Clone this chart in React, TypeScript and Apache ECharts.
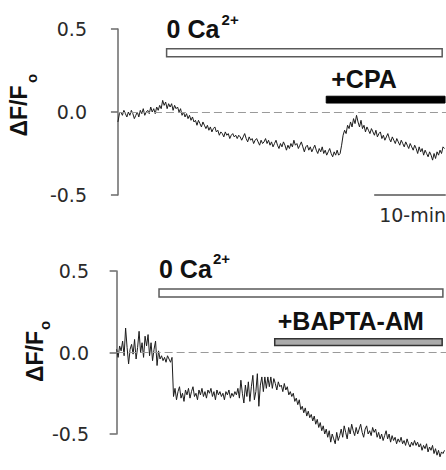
import React, { useEffect, useRef } from "react";
import * as echarts from "echarts";

// One fluorescence sample every 12.5 s, time axis in minutes
const SAMPLE_MIN = 12.5 / 60;

// ΔF/Fo, upper recording (0 Ca2+, then CPA)
const topTrace = [
  -0.06, -0.01, 0.0, -0.02, 0.01, -0.01, -0.03, 0.0, -0.02, 0.01,
  -0.01, -0.04, -0.02, 0.0, -0.03, 0.01, -0.01, 0.02, -0.02, 0.0,
  0.01, -0.01, 0.03, 0.0, 0.02, -0.01, 0.03, 0.01, 0.04, 0.02,
  0.07, 0.04, 0.06, 0.02, 0.05, 0.03, 0.05, 0.01, 0.04, 0.02,
  0.03, 0.0, 0.02, -0.02, 0.0, -0.03, -0.01, -0.04, -0.02, -0.05,
  -0.03, -0.06, -0.05, -0.08, -0.05, -0.07, -0.09, -0.06, -0.08, -0.1,
  -0.08, -0.11, -0.09, -0.12, -0.1, -0.09, -0.12, -0.11, -0.14, -0.12,
  -0.13, -0.15, -0.12, -0.14, -0.13, -0.16, -0.14, -0.13, -0.15, -0.14,
  -0.16, -0.14, -0.15, -0.17, -0.15, -0.13, -0.16, -0.18, -0.15, -0.17,
  -0.16, -0.19, -0.17, -0.16, -0.18, -0.2, -0.17, -0.19, -0.18, -0.16,
  -0.19, -0.17, -0.2, -0.18, -0.21, -0.19, -0.17, -0.2, -0.22, -0.19,
  -0.21, -0.18, -0.2, -0.23, -0.2, -0.22, -0.19, -0.21, -0.17, -0.2,
  -0.19, -0.22, -0.2, -0.18, -0.21, -0.24, -0.21, -0.2, -0.23, -0.21,
  -0.24, -0.22, -0.2, -0.23, -0.25, -0.22, -0.24, -0.21, -0.25, -0.23,
  -0.26, -0.24, -0.22, -0.25, -0.27, -0.24, -0.26, -0.23, -0.26, -0.25,
  -0.2, -0.14, -0.11, -0.13, -0.08, -0.1, -0.06, -0.09, -0.04, -0.07,
  -0.02, -0.06, -0.09, -0.05, -0.1, -0.08, -0.12, -0.09, -0.11, -0.13,
  -0.1, -0.12, -0.14, -0.11, -0.15, -0.13, -0.12, -0.16, -0.14, -0.17,
  -0.15, -0.13, -0.16, -0.18, -0.15, -0.17, -0.19, -0.16, -0.18, -0.2,
  -0.17, -0.19, -0.21, -0.18, -0.2, -0.22, -0.19, -0.21, -0.23, -0.2,
  -0.22, -0.25, -0.21, -0.24, -0.22, -0.26, -0.23, -0.25, -0.27, -0.24,
  -0.26, -0.29, -0.25, -0.28, -0.24, -0.26, -0.23, -0.25, -0.21, -0.22,
];

// ΔF/Fo, lower recording (0 Ca2+, then BAPTA-AM)
const bottomTrace = [
  0.02, -0.03, 0.04, 0.01, 0.07, -0.02, 0.15, 0.03, -0.07, 0.02,
  0.05, -0.01, 0.08, -0.04, 0.03, 0.13, 0.0, 0.06, -0.03, 0.1,
  0.04, 0.11, -0.02, 0.06, -0.05, 0.02, 0.07, -0.08, 0.01, -0.04,
  -0.02, -0.05, -0.03, -0.06, -0.02, -0.04, -0.06, -0.03, -0.27, -0.22,
  -0.29, -0.24, -0.21, -0.28, -0.25, -0.3, -0.23, -0.26, -0.22, -0.28,
  -0.24, -0.21, -0.27, -0.25, -0.29, -0.23, -0.26, -0.22, -0.27, -0.24,
  -0.28, -0.23, -0.25, -0.22, -0.27, -0.24, -0.29, -0.23, -0.26, -0.24,
  -0.27, -0.25, -0.29, -0.24, -0.26, -0.23, -0.28, -0.25, -0.27, -0.24,
  -0.26, -0.22, -0.28, -0.17, -0.25, -0.31, -0.2, -0.27, -0.18, -0.3,
  -0.21, -0.14, -0.29, -0.24, -0.13, -0.33, -0.2, -0.15, -0.24, -0.15,
  -0.22, -0.15, -0.21, -0.15, -0.22, -0.16, -0.19, -0.23, -0.18, -0.21,
  -0.2, -0.24, -0.19, -0.23, -0.21, -0.26, -0.24, -0.27, -0.25, -0.3,
  -0.28, -0.32, -0.29, -0.35, -0.33, -0.37, -0.34, -0.39, -0.36, -0.4,
  -0.38, -0.42, -0.39, -0.44, -0.41, -0.46, -0.43, -0.48, -0.45, -0.5,
  -0.47, -0.52, -0.48, -0.55, -0.5, -0.53, -0.56, -0.49, -0.54, -0.51,
  -0.47, -0.52, -0.45, -0.49, -0.53, -0.46, -0.5, -0.44, -0.48, -0.51,
  -0.46, -0.5, -0.47, -0.44, -0.49, -0.52, -0.47, -0.45, -0.5, -0.48,
  -0.51, -0.46, -0.49, -0.47, -0.52, -0.49, -0.53, -0.5, -0.54, -0.51,
  -0.48, -0.53, -0.5, -0.55, -0.51, -0.54, -0.52, -0.56, -0.53, -0.55,
  -0.52, -0.56, -0.54, -0.57, -0.53, -0.56, -0.58, -0.55, -0.57, -0.54,
  -0.57, -0.55, -0.58, -0.56, -0.6, -0.57, -0.59, -0.56, -0.61, -0.58,
  -0.6, -0.57, -0.62, -0.59, -0.63, -0.6, -0.64, -0.61, -0.62, -0.6,
];

// Y axis range and tick step
const Y_MIN = -0.5;
const Y_MAX = 0.5;
const Y_STEP = 0.5;

// Treatment periods, minutes
const topZeroCa = [6.8, 45.3];
const topCPA = [29.1, 45.7];
const bottomZeroCa = [5.9, 45.4];
const bottomBAPTA = [22.0, 45.3];
// Time scale bar: 10 min
const scaleBar = [35.8, 45.8];
const scaleLabel = "10-min";

const SANS = '"Liberation Sans", Arial, sans-serif';
const TICK_FONT = '"DejaVu Sans", sans-serif';

const toPoints = (values: number[]) => values.map((v, i) => [i * SAMPLE_MIN, v]);

export default function App() {
  const ref = useRef<HTMLDivElement>(null);

  useEffect(() => {
    if (!ref.current) return;
    const chart = echarts.init(ref.current, undefined, { renderer: "svg" });

    const yAxisBase = (gridIndex: number) => ({
      type: "value" as const,
      gridIndex,
      min: Y_MIN,
      max: Y_MAX,
      interval: Y_STEP,
      splitLine: { show: false },
      axisLine: { show: true, lineStyle: { color: "#6a6a6a", width: 1.5 } },
      axisTick: { show: true, length: 7, lineStyle: { color: "#6a6a6a", width: 1.5 } },
      axisLabel: {
        margin: 19,
        color: "#2a2a2a",
        fontSize: 19,
        fontFamily: TICK_FONT,
        formatter: (v: number) => v.toFixed(1),
      },
    });

    const zeroLine = (xEnd: number) => ({
      silent: true,
      symbol: ["none", "none"],
      label: { show: false },
      lineStyle: { color: "#9a9a9a", type: [8, 4], width: 1.2 },
      data: [[{ coord: [0, 0] }, { coord: [xEnd, 0] }]],
    });

    const traceSeries = (idx: number, values: number[], xEnd: number) => ({
      type: "line" as const,
      xAxisIndex: idx,
      yAxisIndex: idx,
      data: toPoints(values),
      showSymbol: false,
      clip: false,
      lineStyle: { color: "#1c1c1c", width: 1 },
      markLine: zeroLine(xEnd),
    });

    const xMax = 220 * SAMPLE_MIN;

    chart.setOption({
      animation: false,
      backgroundColor: "#ffffff",
      grid: [
        { left: 106, right: 0, top: 29, height: 166 },
        { left: 108, right: 0, top: 271, height: 163 },
      ],
      xAxis: [
        { type: "value", gridIndex: 0, min: -8 * SAMPLE_MIN, max: xMax, show: false },
        { type: "value", gridIndex: 1, min: -1.2, max: xMax, show: false },
      ],
      yAxis: [yAxisBase(0), yAxisBase(1)],
      series: [traceSeries(0, topTrace, xMax), traceSeries(1, bottomTrace, xMax)],
    });

    const px = (g: number, x: number, y: number) =>
      chart.convertToPixel({ gridIndex: g }, [x, y]) as number[];

    // Horizontal period bar between two y-levels (data units)
    const bar = (g: number, period: number[], yTop: number, yBot: number, style: any) => {
      const a = px(g, period[0], yTop);
      const b = px(g, period[1], yBot);
      return {
        type: "rect",
        shape: { x: a[0], y: a[1], width: b[0] - a[0], height: b[1] - a[1] },
        style,
      };
    };

    const label = (x: number, y: number, text: string, size: number, extra: any = {}) => ({
      type: "text",
      x,
      y,
      style: {
        text,
        fontFamily: SANS,
        fontSize: size,
        fontWeight: "bold",
        fill: "#111",
        align: "left",
        verticalAlign: "middle",
        ...extra,
      },
    });

    const openStyle = { fill: "#ffffff", stroke: "#5a5a5a", lineWidth: 1.5 };
    const blackStyle = { fill: "#000000", stroke: "#000000", lineWidth: 1 };
    const grayStyle = { fill: "#ababab", stroke: "#333333", lineWidth: 1.5 };

    const tZero = px(0, topZeroCa[0], 0.381);
    const tCPA = px(0, topCPA[0], 0.095);
    const bZero = px(1, bottomZeroCa[0], 0.39);
    const bBAPTA = px(1, bottomBAPTA[0], 0.085);
    const sA = px(0, scaleBar[0], Y_MIN);
    const sB = px(0, scaleBar[1], Y_MIN);

    const graphic: any[] = [
      // upper panel
      bar(0, topZeroCa, 0.381, 0.333, openStyle),
      label(tZero[0], tZero[1] - 20, "0 Ca", 25),
      label(tZero[0] + 55, tZero[1] - 29.5, "2+", 15),
      bar(0, topCPA, 0.095, 0.054, blackStyle),
      label(tCPA[0] + 5, tCPA[1] - 17, "+CPA", 25),
      {
        type: "line",
        shape: { x1: sA[0], y1: sA[1], x2: sB[0], y2: sB[1] },
        style: { stroke: "#555", lineWidth: 1.5 },
      },
      label(sA[0] + 5, sA[1] + 20, scaleLabel, 19, {
        fontFamily: TICK_FONT,
        fontWeight: "normal",
        fill: "#2a2a2a",
      }),
      // lower panel
      bar(1, bottomZeroCa, 0.39, 0.341, openStyle),
      label(bZero[0], bZero[1] - 20, "0 Ca", 25),
      label(bZero[0] + 54, bZero[1] - 30, "2+", 15),
      bar(1, bottomBAPTA, 0.085, 0.043, grayStyle),
      label(bBAPTA[0] + 3, bBAPTA[1] - 18, "+BAPTA-AM", 25),
      // y axis titles, ΔF/Fo
      label(19, 111, "ΔF/F", 23, { align: "center" }),
      label(31.5, 78.5, "o", 15, { align: "center" }),
      label(34.5, 356.5, "ΔF/F", 23, { align: "center" }),
      label(44.5, 325.5, "o", 15, { align: "center" }),
    ];
    // rotate axis titles to read bottom-to-top
    for (let i = graphic.length - 4; i < graphic.length; i++) {
      graphic[i].rotation = Math.PI / 2;
    }

    chart.setOption({ graphic });

    return () => chart.dispose();
  }, []);

  return (
    <div
      ref={ref}
      style={{ position: "absolute", left: 0, top: 0, width: 446, height: 470, background: "#fff" }}
    />
  );
}
